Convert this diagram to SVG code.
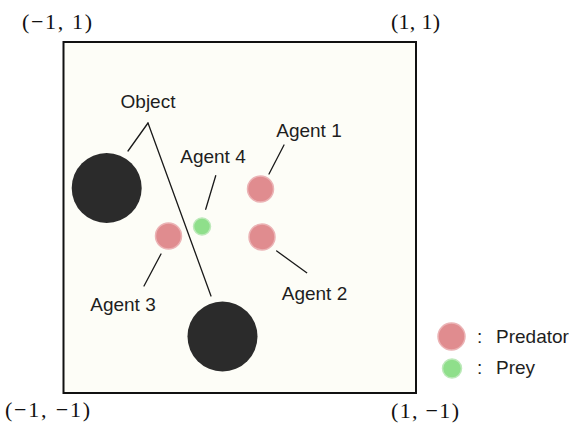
<svg xmlns="http://www.w3.org/2000/svg" width="573" height="429" viewBox="0 0 573 429">
<style>
.lbl{font-family:"Liberation Sans",Arial,sans-serif;font-size:19px;fill:#1e1e1e}
.math{font-family:"Liberation Serif","Times New Roman",serif;font-size:22px;fill:#111}
.obj{fill:#2b2b2b}
.pred{fill:#e08c8f;stroke:#ebb3b5;stroke-width:1.5}
.prey{fill:#8fdf8b;stroke:#bde9ba;stroke-width:1.5}
.ln{stroke:#1a1a1a;stroke-width:1.3;fill:none;stroke-linecap:round}
</style>
<rect width="573" height="429" fill="#ffffff"/>
<g id="arena">
<rect x="63.5" y="42" width="352.5" height="351" fill="#fdfdf7" stroke="#111" stroke-width="2"/>
</g>
<g id="corner-labels">
<text class="math" x="22" y="29" textLength="70" lengthAdjust="spacing">(−1, 1)</text>
<text class="math" x="391" y="29" textLength="49" lengthAdjust="spacing">(1, 1)</text>
<text class="math" x="5" y="417" textLength="85" lengthAdjust="spacing">(−1, −1)</text>
<text class="math" x="391" y="418" textLength="68" lengthAdjust="spacing">(1, −1)</text>
</g>
<g id="connectors">
<line class="ln" x1="148" y1="123" x2="128" y2="151"/>
<line class="ln" x1="148" y1="123" x2="211" y2="296"/>
<line class="ln" x1="284" y1="145" x2="269" y2="174"/>
<line class="ln" x1="215.7" y1="175.7" x2="205.7" y2="209.3"/>
<line class="ln" x1="276.7" y1="251" x2="306.7" y2="272.7"/>
<line class="ln" x1="161" y1="254" x2="144" y2="286"/>
</g>
<g id="object1"><circle class="obj" cx="106.7" cy="188" r="35"/></g>
<g id="object2"><circle class="obj" cx="222.5" cy="336.5" r="35"/></g>
<g id="object-label"><text class="lbl" x="148" y="108" text-anchor="middle">Object</text></g>
<g id="agent1">
<circle class="pred" cx="260.5" cy="189" r="13"/>
<text class="lbl" x="309" y="137" text-anchor="middle">Agent 1</text>
</g>
<g id="agent2">
<circle class="pred" cx="262" cy="237" r="13"/>
<text class="lbl" x="314.5" y="300" text-anchor="middle">Agent 2</text>
</g>
<g id="agent3">
<circle class="pred" cx="168.5" cy="236" r="13"/>
<text class="lbl" x="123" y="311" text-anchor="middle">Agent 3</text>
</g>
<g id="agent4">
<circle class="prey" cx="202" cy="226.5" r="8.5"/>
<text class="lbl" x="213" y="163" text-anchor="middle">Agent 4</text>
</g>
<g id="legend-predator">
<circle class="pred" cx="451.5" cy="336.5" r="13.5"/>
<text class="lbl" x="477" y="343">:</text>
<text class="lbl" x="496" y="343">Predator</text>
</g>
<g id="legend-prey">
<circle class="prey" cx="452" cy="368.5" r="9.5"/>
<text class="lbl" x="477" y="374">:</text>
<text class="lbl" x="496" y="374">Prey</text>
</g>
</svg>
